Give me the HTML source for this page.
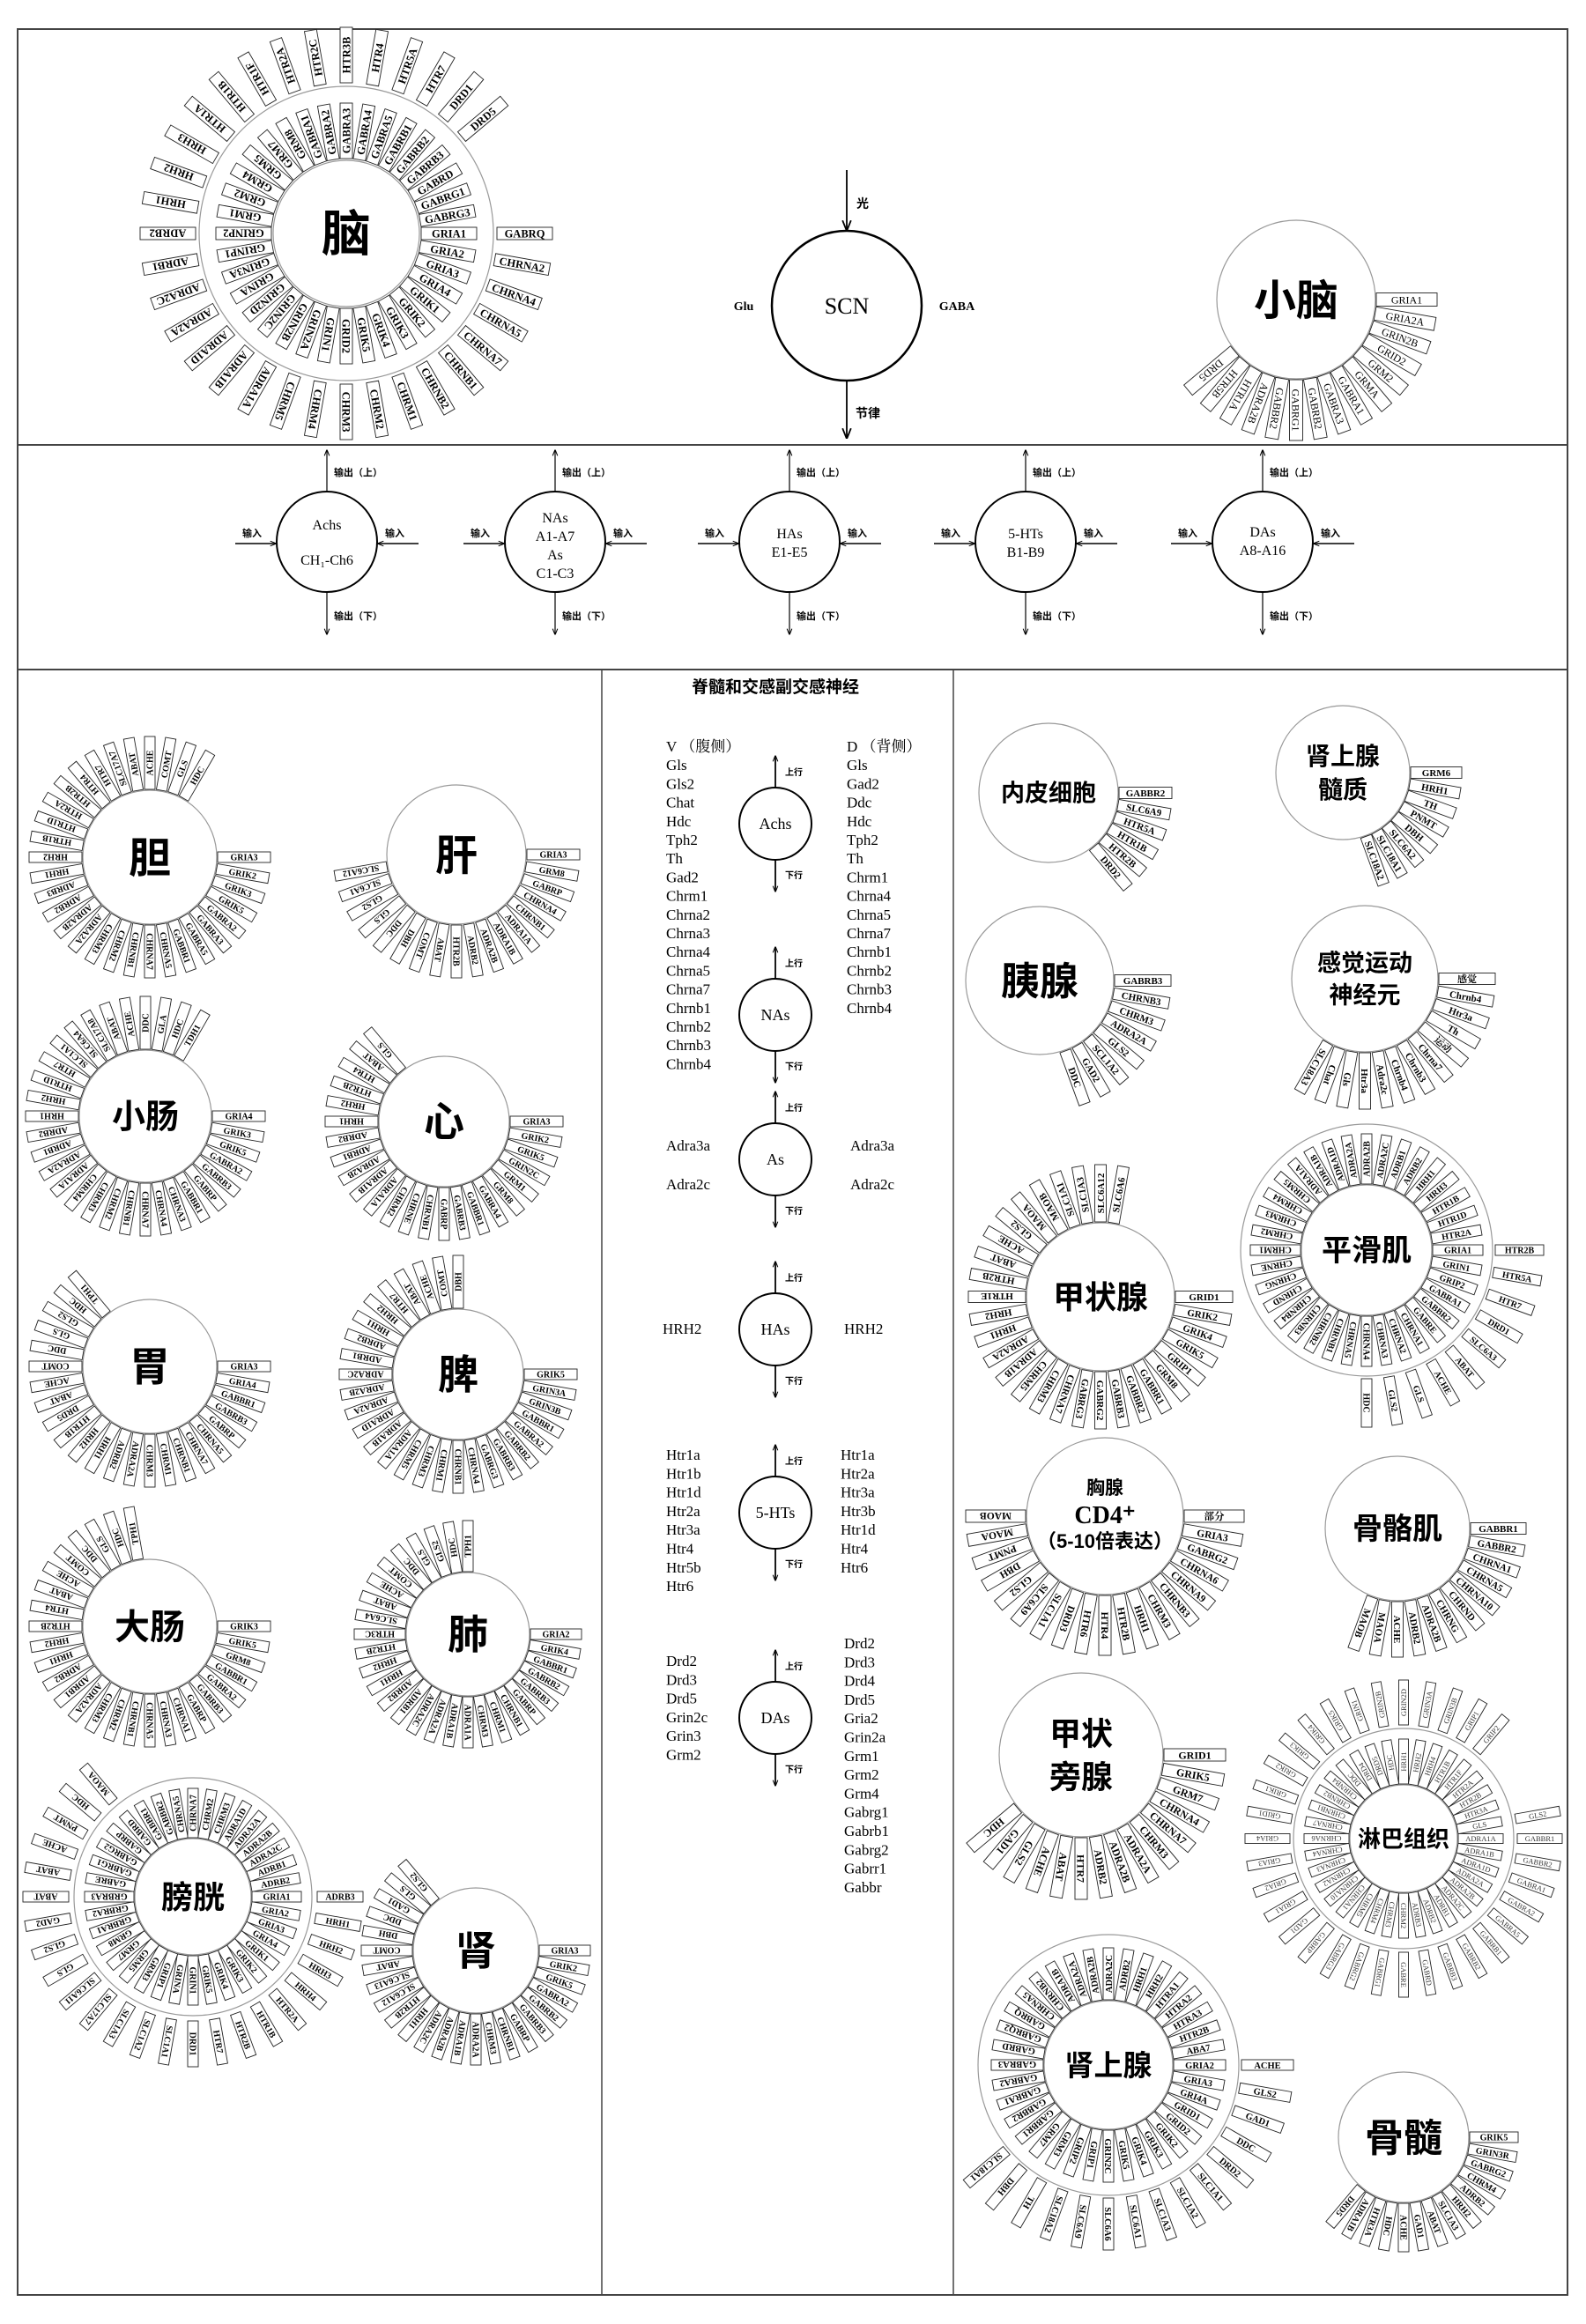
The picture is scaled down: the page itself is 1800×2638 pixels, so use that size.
<!DOCTYPE html>
<html><head><meta charset="utf-8">
<style>
html,body{margin:0;padding:0;background:#fff;}
svg{display:block;}
text{font-family:"Liberation Serif","Noto Serif CJK SC",serif;}
.cjk{font-family:"Liberation Sans","Noto Sans CJK SC",sans-serif;font-weight:bold;}
</style></head>
<body>
<svg id="s" xmlns="http://www.w3.org/2000/svg" width="1800" height="2638" viewBox="0 0 1800 2638">
<defs>
<marker id="ar" viewBox="0 0 10 10" refX="9" refY="5" markerWidth="7" markerHeight="7" orient="auto-start-reverse" markerUnits="userSpaceOnUse"><path d="M0,1 L10,5 L0,9" fill="none" stroke="#000" stroke-width="1.5"/></marker>
<marker id="ar2" viewBox="0 0 10 10" refX="9" refY="5" markerWidth="12" markerHeight="12" orient="auto-start-reverse" markerUnits="userSpaceOnUse"><path d="M0,1 L10,5 L0,9" fill="none" stroke="#000" stroke-width="1.5"/></marker>
</defs>
<rect x="0" y="0" width="1800" height="2638" fill="#fff"/>
<rect x="20" y="33" width="1759" height="2572" fill="none" stroke="#444" stroke-width="2"/>
<line x1="20" y1="505" x2="1779" y2="505" stroke="#444" stroke-width="2"/>
<line x1="20" y1="760" x2="1779" y2="760" stroke="#444" stroke-width="2"/>
<line x1="683" y1="760" x2="683" y2="2605" stroke="#444" stroke-width="1.5"/>
<line x1="1082" y1="760" x2="1082" y2="2605" stroke="#444" stroke-width="1.5"/>
</svg>
<script>
const S=document.getElementById('s');
const NS='http://www.w3.org/2000/svg';
function el(tag,a,t,p){const e=document.createElementNS(NS,tag);for(const k in a)e.setAttribute(k,a[k]);if(t!==undefined)e.textContent=t;(p||S).appendChild(e);return e;}
function circ(cx,cy,r,st,w){el('circle',{cx:cx,cy:cy,r:r,fill:'none',stroke:st||'#999','stroke-width':w||1.2});}
function txt(x,y,t,fs,o){o=o||{};const a={x:x,y:y,'font-size':fs,'text-anchor':o.anchor||'middle',fill:o.fill||'#000'};if(o.cls)a['class']=o.cls;if(o.w)a['font-weight']=o.w;if(o.ff)a['font-family']=o.ff;return el('text',a,t);}
function ring(cx,cy,r0,len,h,labels,o){o=o||{};const st=o.start||0,sp=o.step||10,fs=o.fs||10;
 labels.forEach((lb,i)=>{if(!lb)return;const a=st+i*sp;
  const g=el('g',{transform:`translate(${cx},${cy}) rotate(${a})`});
  el('rect',{x:r0,y:-h/2,width:len,height:h,fill:'#fff',stroke:'#222','stroke-width':0.9},undefined,g);
  const at={x:r0+len/2,y:fs*0.36,'font-size':fs,'text-anchor':'middle','font-weight':o.w||'bold'};
  if(o.ff)at['font-family']=o.ff; if(o.fill)at.fill=o.fill;
  const est=lb.length*fs*(o.cw||0.66); if(est>len-4){at.textLength=len-5;at.lengthAdjust='spacingAndGlyphs';}
  el('text',at,lb,g);});}
function L(s){return s.split(' ').map(x=>x==='_'?'':x);}
function organ(cx,cy,r,title,fs,labels,len,h,lfs,o){circ(cx,cy,r);ring(cx,cy,r+1,len,h,L(labels),Object.assign({fs:lfs},o||{}));
 if(title){const lines=title.split('|');const n=lines.length;lines.forEach((t,i)=>txt(cx,cy+fs*0.36+(i-(n-1)/2)*fs*1.35,t,fs,{cls:'cjk'}));}}

/* ===== Brain ===== */
circ(393,265,83);circ(393,265,167);
ring(393,265,85,63,14,L('GRIA1 GRIA2 GRIA3 GRIA4 GRIK1 GRIK2 GRIK3 GRIK4 GRIK5 GRID2 GRIN1 GRIN2A GRIN2B GRIN2C GRIN2D GRINA GRIN3A GRINP1 GRINP2 GRM1 GRM2 GRM4 GRM5 GRM7 GRM8 GABRA1 GABRA2 GABRA3 GABRA4 GABRA5 GABRB1 GABRB2 GABRB3 GABRD GABRG1 GABRG3'),{fs:12.5});
ring(393,265,171,63,14,L('GABRQ CHRNA2 CHRNA4 CHRNA5 CHRNA7 CHRNB1 CHRNB2 CHRM1 CHRM2 CHRM3 CHRM4 CHRM5 ADRA1A ADRA1B ADRA1D ADRA2A ADRA2C ADRB1 ADRB2 HRH1 HRH2 HRH3 HTR1A HTR1B HTR1F HTR2A HTR2C HTR3B HTR4 HTR5A HTR7 DRD1 DRD5'),{fs:12.5});
txt(393,285,'脑',56,{cls:'cjk'});

/* ===== SCN ===== */
circ(961,347,85,'#000',2.5);
el('line',{x1:961,y1:193,x2:961,y2:261,stroke:'#000','stroke-width':1.8,'marker-end':'url(#ar2)'});
el('line',{x1:961,y1:433,x2:961,y2:497,stroke:'#000','stroke-width':1.8,'marker-end':'url(#ar2)'});
txt(972,236,'光',14,{cls:'cjk',anchor:'start'});
txt(971,474,'节律',14,{cls:'cjk',anchor:'start'});
txt(961,356,'SCN',26);
txt(844,352,'Glu',14,{w:'bold'});
txt(1086,352,'GABA',14,{w:'bold'});

/* ===== Cerebellum ===== */
organ(1471,340,90,'小脑',48,'GRIA1 GRIA2A GRIN2B GRID2 GRM2 GRMA GABRA1 GABRA3 GABRB2 GABRG1 GABBR2 ADRA2B HTR1A HTR5B DRD5',69,15,12,{w:'normal',ff:'Liberation Sans, sans-serif'});

/* ===== Row 2 nuclei ===== */
const nuc=[[371,['Achs','CH₁-Ch6'],[596,636]],[630,['NAs','A1-A7','As','C1-C3'],[588,609,630,651]],[896,['HAs','E1-E5'],[606,627]],[1164,['5-HTs','B1-B9'],[606,627]],[1433,['DAs','A8-A16'],[604,625]]];
nuc.forEach(([cx,ts,ys])=>{
 circ(cx,615,57,'#000',2);
 el('line',{x1:cx,y1:558,x2:cx,y2:511,stroke:'#000','stroke-width':1.2,'marker-end':'url(#ar)'});
 el('line',{x1:cx,y1:672,x2:cx,y2:720,stroke:'#000','stroke-width':1.2,'marker-end':'url(#ar)'});
 el('line',{x1:cx-104,y1:617,x2:cx-58,y2:617,stroke:'#000','stroke-width':1.5,'marker-end':'url(#ar)'});
 el('line',{x1:cx+104,y1:617,x2:cx+58,y2:617,stroke:'#000','stroke-width':1.5,'marker-end':'url(#ar)'});
 txt(cx+8,540,'输出（上）',11,{cls:'cjk',anchor:'start'});
 txt(cx+8,703,'输出（下）',11,{cls:'cjk',anchor:'start'});
 txt(cx-96,609,'输入',11,{cls:'cjk',anchor:'start'});
 txt(cx+66,609,'输入',11,{cls:'cjk',anchor:'start'});
 ts.forEach((t,i)=>txt(cx,ys[i]+5,t,16));
});

/* ===== Middle column ===== */
txt(880,786,'脊髓和交感副交感神经',19,{cls:'cjk'});
const mc=[['Achs',935],['NAs',1152],['As',1316],['HAs',1509],['5-HTs',1717],['DAs',1950]];
mc.forEach(([t,y])=>{circ(880,y,41,'#000',2);txt(880,y+6,t,18);
 el('line',{x1:880,y1:y-41,x2:880,y2:y-77,stroke:'#000','stroke-width':1.8,'marker-end':'url(#ar)'});
 el('line',{x1:880,y1:y+41,x2:880,y2:y+77,stroke:'#000','stroke-width':1.8,'marker-end':'url(#ar)'});
 txt(891,y-55,'上行',10,{cls:'cjk',anchor:'start'});txt(891,y+62,'下行',10,{cls:'cjk',anchor:'start'});});
function list(x,y0,items,sp){items.forEach((t,i)=>txt(x,y0+i*(sp||21.2)+6,t,17,{anchor:'start'}));}
list(756,847,['V （腹侧）','Gls','Gls2','Chat','Hdc','Tph2','Th','Gad2','Chrm1','Chrna2','Chrna3','Chrna4','Chrna5','Chrna7','Chrnb1','Chrnb2','Chrnb3','Chrnb4']);
list(961,847,['D （背侧）','Gls','Gad2','Ddc','Hdc','Tph2','Th','Chrm1','Chrna4','Chrna5','Chrna7','Chrnb1','Chrnb2','Chrnb3','Chrnb4']);
list(756,1300,['Adra3a'],0);list(756,1344,['Adra2c'],0);
list(965,1300,['Adra3a'],0);list(965,1344,['Adra2c'],0);
list(752,1508,['HRH2'],0);list(958,1508,['HRH2'],0);
list(756,1651,['Htr1a','Htr1b','Htr1d','Htr2a','Htr3a','Htr4','Htr5b','Htr6'],21.3);
list(954,1651,['Htr1a','Htr2a','Htr3a','Htr3b','Htr1d','Htr4','Htr6'],21.3);
list(756,1885,['Drd2','Drd3','Drd5','Grin2c','Grin3','Grm2'],21.3);
list(958,1865,['Drd2','Drd3','Drd4','Drd5','Gria2','Grin2a','Grm1','Grm2','Grm4','Gabrg1','Gabrb1','Gabrg2','Gabrr1','Gabbr'],21.3);

/* ===== Left organs ===== */
organ(170,973,76,'胆',48,'GRIA3 GRIK2 GRIK3 GRIK5 GABRA2 GABRA3 GABRA5 GABBR1 CHRNA5 CHRNA7 CHRNB1 CHRM2 CHRM3 ADRA2A ADRA2B ADRB2 ADRB3 HRH1 HRH2 HTR1B HTR1D HTR2A HTR2B HTR4 HTR7 SLC17A7 ABAT ACHE COMT GLS HDC',60,12,10);
organ(518,970,79,'肝',48,'GRIA3 GRM8 GABRP CHRNA4 CHRNB1 ADRA1A ADRA1B ADRA2B ADRB2 HTR2B ABAT COMT DBH DDC GLS GLS2 SLC6A1 SLC6A12',60,12,10);
organ(165,1267,75,'小肠',38,'GRIA4 GRIK3 GRIK5 GABRA2 GABRB3 GABRP GABBR1 CHRNA3 CHRNA4 CHRNA7 CHRNB1 CHRM2 CHRM3 CHRM4 ADRA1A ADRA2A ADRB1 ADRB2 HRH1 HRH2 HTR1D HTR7 SLC1A1 SLC6A4 SLC17A8 ABAT ACHE DDC GLA HDC TDH1',60,12,10);
organ(504,1273,74,'心',46,'GRIA3 GRIK2 GRIK5 GRIN2C GRM1 GRM8 GABRA4 GABBR1 GABRB3 GABRP CHRNB1 CHRNE CHRM2 ADRA1A ADRA1B ADRA2B ADRB1 ADRB2 HRH1 HRH2 HTR2B HTR4 ABAT GLS',60,12,10);
organ(170,1551,76,'胃',46,'GRIA3 GRIA4 GABBR1 GABRB3 GABRP CHRNA5 CHRNA7 CHRNB1 CHRM1 CHRM3 ADRA2A ADRB2 HRH1 HRH2 HTR1B DRD5 ABAT ACHE COMT DDC GLS GLS2 HDC TPH1',60,12,10);
organ(520,1560,74,'脾',46,'GRIK5 GRIN3A GRIN3B GABBR1 GABRA2 GABRB2 GABRB3 GABRG3 CHRNA4 CHRNB1 CHRM1 CHRM3 CHRM5 ADRA1A ADRA1B ADRA1D ADRA2A ADRA2B ADRA2C ADRB1 ADRB2 HRH1 HRH2 HTR7 ABAT ACHE COMT DBH',60,12,10);
organ(170,1846,76,'大肠',40,'GRIK3 GRIK5 GRM8 GABBR1 GABRA2 GABRB3 GABRP CHRNA1 CHRNA3 CHRNA5 CHRNB1 CHRM2 CHRM3 ADRA2A ADRB1 ADRB2 HRH1 HRH2 HTR2B HTR4 ABAT ACHE COMT DDC GLS HDC TPH1',60,12,10);
organ(531,1855,70,'肺',46,'GRIA2 GRIK4 GABBR1 GABRB2 GABRB3 GABRP CHRNB1 CHRM1 CHRM3 ADRA1A ADRA1B ADRA2A ADRA2C ADRB1 ADRB2 HRH1 HRH2 HTR2B HTR3C SLC6A4 ABAT ACHE COMT DDC GLS GLS2 HDC TPH1',58,12,10);
circ(219,2153,135);
organ(219,2153,66,'膀胱',36,'GRIA1 GRIA2 GRIA3 GRIA4 GRIK1 GRIK2 GRIK3 GRIK4 GRIK5 GRIN1 GRINA GRIP1 GRM3 GRM5 GRM7 GRM8 GRBRA1 GRBRA2 GRBRA3 GABRE GABRG1 GABRG2 GABRP GABRD GABBR1 GABBR2 CHRNA5 CHRNA7 CHRM2 CHRM3 ADRA1D ADRA2A ADRA2B ADRA2C ADRB1 ADRB2',56,12,10);
ring(219,2153,141,52,12,L('ADRB3 HRH1 HRH2 HRH3 HRH4 HTR2A HTR1B HTR2B HTR7 DRD1 SLC1A1 SLC1A2 SLC1A3 SLC17A7 SLC6A11 GLS GLS2 GAD2 ABAT ABAT ACHE PNMT HDC MAOA'),{fs:10});
organ(540,2214,71,'肾',46,'GRIA3 GRIK2 GRIK5 GABRA2 GABRB2 GABRB3 GABRP CHRNB1 CHRM3 ADRA2A ADRA1B ADRA2B ADRA2C HRH1 HTR2B SLC6A12 SLC6A13 ABAT COMT DBH DDC GAD1 GLS GLS2',58,12,10);

/* ===== Right organs ===== */
organ(1190,900,79,'内皮细胞',27,'GABBR2 SLC6A9 HTR5A HTR1B HTR2B DRD2',60,13,11);
organ(1524,877,76,'肾上腺|髓质',28,'GRM6 HRH1 TH PNMT DBH SLC6A2 SLC18A1 SLC18A2',58,13,11);
organ(1180,1113,84,'胰腺',44,'GABRB3 CHRNB3 CHRM3 ADRA2A GLS2 SCL1A2 GAD2 DDC',64,13,11);
organ(1549,1111,83,'感觉运动|神经元',27,'感觉 Chrnb4 Htr3a Th 运动 Chrna7 Chrnb3 Chrnb4 Adra2c Htr3a Gls Chat SLC18A3',64,13,11);
organ(1249,1472,84,'甲状腺',36,'GRID1 GRIK2 GRIK4 GRIK5 GRIP1 GRM8 GABBR1 GABBR2 GABRB3 GABRG2 GABRG3 CHRNA7 CHRM3 CHRM5 ADRA1B ADRA2A HRH1 HRH2 HTR1E HTR2B ABAT ACHE GLS2 MAOA MAOB SLC1A1 SLC1A3 SLC6A12 SLC6A6',65,13,11);
circ(1551,1419,143);
organ(1551,1419,74,'平滑肌',34,'GRIA1 GRIN1 GRIP2 GABRA1 GABBR2 GABRE CHRNA1 CHRNA2 CHRNA3 CHRNA4 CHRNA5 CHRNB1 CHRNB2 CHRNB3 CHRNB4 CHRND CHRNG CHRNE CHRM1 CHRM2 CHRM3 CHRM4 CHRM5 ADRA1A ADRA1B ADRA1D ADRA2A ADRA2B ADRA2C ADRB1 ADRB2 HRH1 HRH3 HTR1B HTR1D HTR2A',57,12,10);
ring(1551,1419,146,55,12,L('HTR2B HTR5A HTR7 DRD1 SLC6A3 ABAT ACHE GLS GLS2 HDC'),{fs:10});
circ(1254,1721,89);
ring(1254,1721,90,68,14,L('部分 GRIA3 GABRG2 CHRNA6 CHRNA9 CHRNB3 CHRM3 HRH1 HTR2B HTR4 HTR6 DRD3 SLC1A1 SLC6A9 GLS2 DBH PNMT MAOA MAOB'),{fs:11.5});
txt(1254,1696,'胸腺',21,{cls:'cjk'});
el('text',{x:1254,y:1729,'font-size':28,'text-anchor':'middle','font-weight':'bold'},'CD4⁺');
txt(1254,1757,'（5-10倍表达）',22,{cls:'cjk'});
organ(1586,1735,82,'骨骼肌',34,'GABBR1 GABBR2 CHRNA1 CHRNA5 CHRNA10 CHRND CHRNG ADRA2B ADRB2 ACHE MAOA MAOB',63,13,11);
organ(1227,1992,93,'甲状|旁腺',36,'GRID1 GRIK5 GRM7 CHRNA4 CHRNA7 CHRM3 ADRA2A ADRA2B ADRB2 HTR7 ABAT ACHE GLS2 GAD1 HDC',70,14,12);
circ(1593,2087,125);
organ(1593,2087,61,'淋巴组织',26,'ADRA1A ADRA1B ADRA1D ADRA2A ADRA2B ADRA2C ADRB1 ADRB2 ADRB3 CHRM2 CHRM3 CHRM4 CHRM5 CHRNA1 CHRNA10 CHRNA2 CHRNA3 CHRNA4 CHRNA6 CHRNA7 CHRNB1 CHRNB2 CHRNB4 DDC DRD4 DRD5 HDC HRH1 HRH2 HRH4 HTR1B HTR1F HTR2A HTR2B HTR3A GLS',51,11,8.5,{w:'normal',ff:'Liberation Sans, sans-serif',fill:'#333',cw:0.62});
ring(1593,2087,129,51,11,L('GABBR1 GABBR2 GABRA1 GABRA2 GABRA5 GABRB1 GABRB2 GABRB3 GABRD GABRE GABRG1 GABRG2 GABRG3 GABRP GAD1 GRIA1 GRIA2 GRIA3 GRIA4 GRID1 GRIK1 GRIK2 GRIK3 GRIK4 GRIK5 GRIN1 GRIN2B GRIN2D GRIN3A GRIN3B GRIP1 GRIP2 _ _ _ GLS2'),{fs:8.5,w:'normal',ff:'Liberation Sans, sans-serif',fill:'#333',cw:0.62});
circ(1258,2344,148);
organ(1258,2344,73,'肾上腺',33,'GRIA2 GRIA3 GRI4A GRID1 GRID2 GRIK2 GRIK3 GRIK4 GRIK5 GRIN2C GRIP1 GRIP2 GRM3 GRM7 GABBR1 GABBR2 GABRA1 GABRA2 GABRA3 GABRD GABRQ2 GABRQ CHRNA5 CHRNB2 ADRA1B ADRA2A ADRA2B ADRA2C ADRB2 HRH1 HRH2 HTRA1 HTRA2 HTRA3 HTR2B ABA7',59,12,10.5);
ring(1258,2344,151,59,12,L('ACHE GLS2 GAD1 DDC DRD2 SLC1A1 SLC1A2 SLC1A3 SLC6A1 SLC6A6 SLC6A9 SLC18A2 TH DBH SLC18A1'),{fs:10.5});
organ(1593,2426,74,'骨髓',44,'GRIK5 GRIN3R GABRG2 CHRM4 ADRB2 HRH2 SLC1A3 ABAT GAD1 ACHE HDC HTR3A ADRA1B DRD5',55,12,10);
</script>
</body></html>
